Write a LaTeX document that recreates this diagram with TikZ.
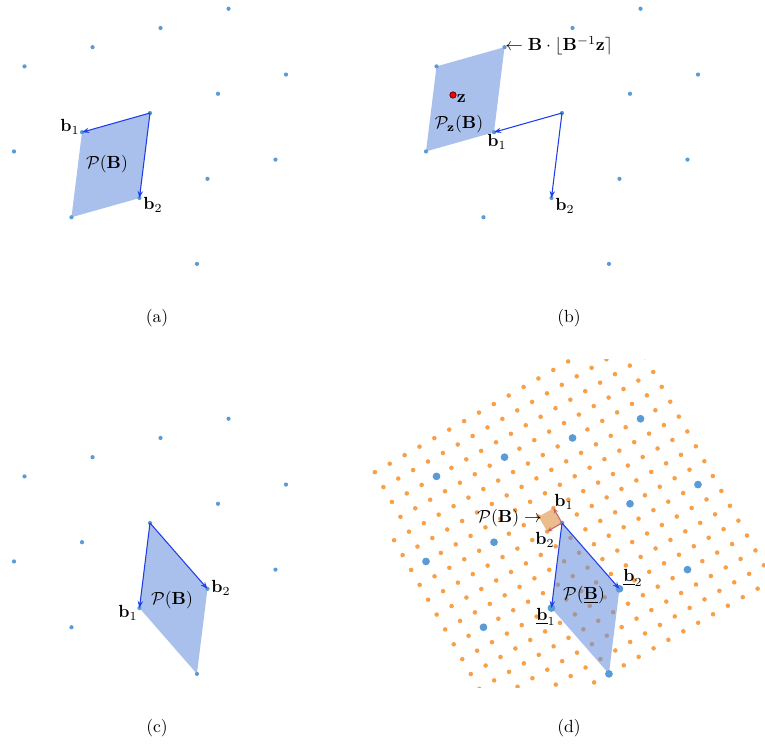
\documentclass[tikz,border=0pt]{standalone}
\usepackage{amsmath,amssymb}
\usetikzlibrary{arrows.meta}
\definecolor{latdot}{RGB}{91,155,213}
\definecolor{vecblue}{RGB}{30,60,235}
\definecolor{cellblue}{RGB}{100,140,220}
\definecolor{orgdot}{RGB}{247,160,72}
\definecolor{vecred}{RGB}{205,95,95}
\definecolor{celltan}{RGB}{230,176,122}
\begin{document}
\begin{tikzpicture}[x=0.02cm,y=-0.02cm,
  dotsmall/.style={fill=latdot},
  cellfill/.style={fill=cellblue,fill opacity=0.55},
  vecarrow/.style={draw=vecblue,line width=0.6pt,-{Stealth[length=4pt,width=3pt]}},
  redarrow/.style={draw=vecred,line width=0.6pt,-{Stealth[length=3pt,width=2.6pt]}},
  lbl/.style={inner sep=0pt},
  caption/.style={inner sep=0pt}]
\useasboundingbox (0,0) rectangle (765,744);
\def\lattice{-1/-1,0/-1,1/-1,2/-1,-2/0,-1/0,0/0,1/0,2/0,-2/1,-1/1,0/1,1/1,-1/2}
% ---------- (a)
\coordinate (aO) at (150,113);
\coordinate (aB1) at (82,132.21);
\coordinate (aB2) at (139.47,198.04);
\coordinate (aB12) at (71.47,217.25);
\fill[cellfill] (aO) -- (aB1) -- (aB12) -- (aB2) -- cycle;
\foreach \i/\j in \lattice {
  \fill[dotsmall] ({150+\i*(-68)+\j*(-10.53)},{113+\i*19.21+\j*85.04}) circle (1.2pt);
}
\draw[vecarrow] (aO) -- (aB1);
\draw[vecarrow] (aO) -- (aB2);
\node[lbl] (al1) at (70,127) {$\mathbf{b}_1$};
\node[lbl] (al2) at (153,205) {$\mathbf{b}_2$};
\node[lbl] (alP) at (107,164) {$\mathcal{P}(\mathbf{B})$};
\node[caption] (capa) at (157,318) {(a)};
% ---------- (b)
\coordinate (bO) at (562,113);
\coordinate (bB1) at (494,132.21);
\coordinate (bB2) at (551.47,198.04);
\coordinate (bC1) at (504.53,47.17);
\coordinate (bC2) at (436.53,66.38);
\coordinate (bC3) at (426,151.42);
\fill[cellfill] (bC1) -- (bC2) -- (bC3) -- (bB1) -- cycle;
\foreach \i/\j in \lattice {
  \fill[dotsmall] ({562+\i*(-68)+\j*(-10.53)},{113+\i*19.21+\j*85.04}) circle (1.2pt);
}
\draw[vecarrow] (bO) -- (bB1);
\draw[vecarrow] (bO) -- (bB2);
\node[circle,fill=red,draw=red!40!black,line width=0.45pt,inner sep=0pt,minimum size=3.6pt] (bz) at (453,95) {};
\node[lbl,anchor=west] (bzl) at (456.5,99) {$\mathbf{z}$};
\node[lbl] (bPz) at (459,124) {$\mathcal{P}_{\mathbf{z}}(\mathbf{B})$};
\node[lbl] (bl1) at (497,142) {$\mathbf{b}_1$};
\node[lbl] (bl2) at (565,206) {$\mathbf{b}_2$};
\node[lbl,anchor=west] (bround) at (505,46) {$\leftarrow\mathbf{B}\cdot\lfloor\mathbf{B}^{-1}\mathbf{z}\rceil$};
\node[caption] (capb) at (569,318) {(b)};
% ---------- (c)
\coordinate (cO) at (150,523);
\coordinate (cB1) at (139.47,608.04);
\coordinate (cB2) at (207.47,588.83);
\coordinate (cB12) at (196.94,673.87);
\fill[cellfill] (cO) -- (cB1) -- (cB12) -- (cB2) -- cycle;
\foreach \i/\j in \lattice {
  \fill[dotsmall] ({150+\i*(-68)+\j*(-10.53)},{523+\i*19.21+\j*85.04}) circle (1.2pt);
}
\draw[vecarrow] (cO) -- (cB1);
\draw[vecarrow] (cO) -- (cB2);
\node[lbl] (cl1) at (128,613) {$\mathbf{b}_1$};
\node[lbl] (cl2) at (221,588) {$\mathbf{b}_2$};
\node[lbl] (clP) at (172,600) {$\mathcal{P}(\mathbf{B})$};
\node[caption] (capc) at (157,728) {(c)};
% ---------- (d)
\begin{scope}
  \clip (360,359) rectangle (766,687);
  \foreach \a in {-9,...,9} {
    \foreach \b in {-8,...,9} {
      \pgfmathsetmacro{\keep}{(\a<9 || \b>-5) ? 1 : 0}
      \ifnum\keep=1
        \fill[orgdot] ({562+\a*(-14.87)+\b*8.52},{523+\a*8.52+\b*14.87}) circle (1.3pt);
      \fi
    }
  }
\end{scope}
\coordinate (dO) at (562,523);
\coordinate (dB1) at (551.47,608.04);
\coordinate (dB2) at (619.47,588.83);
\coordinate (dB12) at (608.94,673.87);
\coordinate (dU1) at (553.48,508.13);
\coordinate (dU2) at (547.13,531.52);
\coordinate (dU12) at (538.61,516.65);
\fill[cellfill] (dO) -- (dB1) -- (dB12) -- (dB2) -- cycle;
\fill[celltan,fill opacity=0.85] (dO) -- (dU1) -- (dU12) -- (dU2) -- cycle;
\foreach \i/\j in \lattice {
  \ifnum\i=0 \ifnum\j=0 \else
    \fill[latdot] ({562+\i*(-68)+\j*(-10.53)},{523+\i*19.21+\j*85.04}) circle (2.2pt);
  \fi \else
    \fill[latdot] ({562+\i*(-68)+\j*(-10.53)},{523+\i*19.21+\j*85.04}) circle (2.2pt);
  \fi
}
\fill[latdot] (dO) circle (1.2pt);
\draw[vecarrow] (dO) -- (dB1);
\draw[vecarrow] (dO) -- (dB2);
\draw[redarrow] (dO) -- (dU1);
\draw[redarrow] (dO) -- (dU2);
\node[lbl,anchor=east] (dPB) at (542,518) {$\mathcal{P}(\mathbf{B})\rightarrow$};
\node[lbl] (dl1) at (564,502) {$\mathbf{b}_1$};
\node[lbl] (dl2) at (545,540) {$\mathbf{b}_2$};
\node[lbl] (dPu) at (584,595) {$\mathcal{P}(\underline{\mathbf{B}})$};
\node[lbl] (dul2) at (633,578) {$\underline{\mathbf{b}}_2$};
\node[lbl] (dul1) at (546,617) {$\underline{\mathbf{b}}_1$};
\node[caption] (capd) at (569,728) {(d)};
\end{tikzpicture}
\end{document}
